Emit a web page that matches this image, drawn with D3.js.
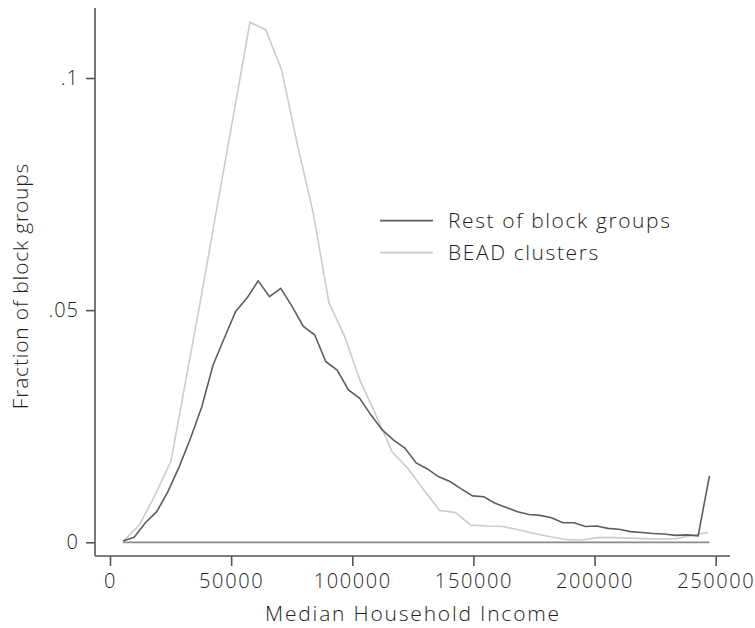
<!DOCTYPE html>
<html>
<head>
<meta charset="utf-8">
<script src="https://cdn.jsdelivr.net/npm/d3@7"></script>
<style>
  body { margin: 0; background: #fff; }
  text { font-family: "Open Sans", sans-serif; font-weight: 300; fill: #1e1e1e; }
</style>
</head>
<body>
<div id="wrapper"></div>
<script>
// income bins (midpoints) and fractions
const restIncome = [5300, 9960, 14610, 19270, 23920, 28580, 33240, 37890, 42550, 47200,
  51860, 56520, 61170, 65830, 70480, 75140, 79800, 84450, 89110, 93760,
  98420, 103080, 107730, 112390, 117040, 121700, 126360, 131010, 135670, 140320,
  144980, 149640, 154290, 158950, 163600, 168260, 172920, 177570, 182230, 186880,
  191540, 196200, 200850, 205510, 210160, 214820, 219480, 224130, 228790, 233440,
  238100, 242760, 247410]
const restFrac = [0.0003, 0.0011, 0.0042, 0.0066, 0.0109, 0.0163, 0.0224, 0.0292, 0.0382, 0.0440,
  0.0497, 0.0526, 0.0563, 0.0529, 0.0547, 0.0508, 0.0465, 0.0447, 0.0389, 0.0371,
  0.0328, 0.0310, 0.0274, 0.0242, 0.0220, 0.0203, 0.0171, 0.0158, 0.0141, 0.0131,
  0.0115, 0.0100, 0.0098, 0.0084, 0.0075, 0.0066, 0.0060, 0.0058, 0.0053, 0.0042,
  0.0042, 0.0034, 0.0035, 0.0030, 0.0028, 0.0023, 0.0021, 0.0019, 0.0018, 0.0015,
  0.0016, 0.0014, 0.0143]

const beadIncome = [5600, 12120, 18640, 25160, 31680, 38200, 44720, 51240, 57760, 64280,
  70800, 77320, 83840, 90360, 96880, 103400, 109920, 116440, 122960, 129480,
  136000, 142520, 149040, 155560, 162080, 168600, 175120, 181640, 188160, 194680,
  201200, 207720, 214240, 220760, 227280, 233800, 240320, 246840]
const beadFrac = [0.0003, 0.0037, 0.0102, 0.0175, 0.0360, 0.0545, 0.0738, 0.0928, 0.1120, 0.1104,
  0.1018, 0.0857, 0.0710, 0.0516, 0.0443, 0.0346, 0.0272, 0.0195, 0.0159, 0.0113,
  0.0069, 0.0064, 0.0037, 0.0035, 0.0034, 0.0027, 0.0019, 0.0012, 0.0006, 0.0005,
  0.0010, 0.0010, 0.0009, 0.0008, 0.0007, 0.0008, 0.0015, 0.0021]

const xTicks = [0, 50000, 100000, 150000, 200000, 250000]
const yTicks = [0, 0.05, 0.1]
const yTickLabels = ["0", ".05", ".1"]
const legendLabels = ["Rest of block groups", "BEAD clusters"]

const width = 755
const height = 628
const darkColor = "#5e5e5e"
const lightColor = "#cbcbcb"
const axisColor = "#555"
const textColor = "#1e1e1e"

const svg = d3.select("#wrapper")
  .append("svg")
  .attr("width", width)
  .attr("height", height)

const xScale = d3.scaleLinear()
  .domain([0, 250000])
  .range([110, 715.7])

const yScale = d3.scaleLinear()
  .domain([0, 0.1])
  .range([542.3, 78])

// axis lines (plot region frame on left and bottom)
const axisLeftX = 95
const axisBottomY = 556

svg.append("line")
  .attr("x1", axisLeftX).attr("x2", axisLeftX)
  .attr("y1", 8).attr("y2", axisBottomY)
  .attr("stroke", axisColor).attr("stroke-width", 1.6)

svg.append("line")
  .attr("x1", axisLeftX).attr("x2", 730)
  .attr("y1", axisBottomY).attr("y2", axisBottomY)
  .attr("stroke", axisColor).attr("stroke-width", 1.6)

const yAxis = svg.append("g")
  .attr("transform", `translate(${axisLeftX},0)`)
  .call(d3.axisLeft(yScale)
    .tickValues(yTicks)
    .tickSize(9)
    .tickPadding(7)
    .tickFormat((d, i) => yTickLabels[i]))
yAxis.select(".domain").remove()
yAxis.selectAll(".tick line").attr("stroke", axisColor).attr("stroke-width", 1.6)
yAxis.selectAll(".tick text")
  .style("font-family", "'Open Sans', sans-serif")
  .style("font-weight", 300)
  .style("font-size", "20px")
  .style("letter-spacing", "1px")
  .attr("fill", textColor)

const xAxis = svg.append("g")
  .attr("transform", `translate(0,${axisBottomY})`)
  .call(d3.axisBottom(xScale)
    .tickValues(xTicks)
    .tickSize(10)
    .tickPadding(8)
    .tickFormat(d3.format("d")))
xAxis.select(".domain").remove()
xAxis.selectAll(".tick line").attr("stroke", axisColor).attr("stroke-width", 1.6)
xAxis.selectAll(".tick text")
  .style("font-family", "'Open Sans', sans-serif")
  .style("font-weight", 300)
  .style("font-size", "20px")
  .style("letter-spacing", "1.6px")
  .attr("fill", textColor)

// axis titles
svg.append("text")
  .attr("x", 413)
  .attr("y", 621)
  .attr("text-anchor", "middle")
  .style("font-size", "21px")
  .style("letter-spacing", "1.8px")
  .text("Median Household Income")

svg.append("text")
  .attr("transform", "translate(28,286) rotate(-90)")
  .attr("text-anchor", "middle")
  .style("font-size", "21px")
  .style("letter-spacing", "0.8px")
  .text("Fraction of block groups")

// zero baseline across the data range
const xMin = d3.min([d3.min(restIncome), d3.min(beadIncome)])
const xMax = d3.max([d3.max(restIncome), d3.max(beadIncome)])
svg.append("line")
  .attr("x1", xScale(xMin)).attr("x2", xScale(xMax))
  .attr("y1", yScale(0)).attr("y2", yScale(0))
  .attr("stroke", "#8a8a8a").attr("stroke-width", 1.8)

const line = d3.line()
  .x(d => xScale(d[0]))
  .y(d => yScale(d[1]))

svg.append("path")
  .datum(beadIncome.map((x, i) => [x, beadFrac[i]]))
  .attr("d", line)
  .attr("fill", "none")
  .attr("stroke", lightColor)
  .attr("stroke-width", 1.6)

svg.append("path")
  .datum(restIncome.map((x, i) => [x, restFrac[i]]))
  .attr("d", line)
  .attr("fill", "none")
  .attr("stroke", darkColor)
  .attr("stroke-width", 1.6)

// legend
const legend = svg.append("g")
const legendColors = [darkColor, lightColor]
legendLabels.forEach((label, i) => {
  const y = 220.7 + i * 32
  legend.append("line")
    .attr("x1", 380).attr("x2", 433)
    .attr("y1", y).attr("y2", y)
    .attr("stroke", legendColors[i])
    .attr("stroke-width", 1.8)
  legend.append("text")
    .attr("x", 448)
    .attr("y", y + 7)
    .style("font-size", "21px")
    .style("letter-spacing", "1.6px")
    .text(label)
})
</script>
</body>
</html>
